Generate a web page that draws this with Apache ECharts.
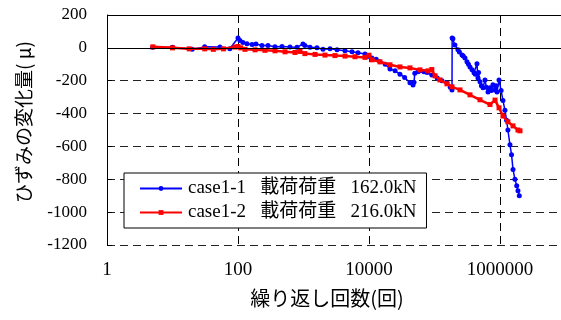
<!DOCTYPE html>
<html>
<head>
<meta charset="utf-8">
<script src="https://cdn.jsdelivr.net/npm/echarts@6/dist/echarts.min.js"></script>
<style>
  html, body { margin: 0; padding: 0; background: #fff; overflow: hidden; width: 561px; height: 320px; }
  /* the plot area runs on past the right edge of the page, up to 10^8 */
  #chart { width: 640px; height: 320px; }
</style>
</head>
<body>
<div id="chart"></div>
<script>
// Strain change vs. number of load cycles (log scale)
const seriesNames = ['case1-1   載荷荷重   162.0kN', 'case1-2   載荷荷重   216.0kN'];
const yTicks = [-1200, -1000, -800, -600, -400, -200, 0, 200];
const xTicks = [1, 100, 10000, 1000000];

// case1-1 : cycles / strain change
const case1Cycles = [
  5, 10, 20, 31, 53, 75, 100, 107, 119, 137, 164, 188, 232, 287, 367, 470, 622, 796,
  982, 1050, 1256, 1607, 1985, 2540, 3250, 4300, 5500, 6790, 8690, 9660,
  11100, 12900, 14700, 17700, 20900, 25000, 29700, 35000, 42200, 47000, 48700,
  50000, 56000, 60000, 69000, 77000, 91000, 110000, 130000, 155000, 174000, 185000,
  186000, 191000, 205000, 228000, 240000, 263000, 275000, 292000, 313000, 330000,
  348000, 374000, 401000, 420000, 445000, 461000, 470000, 495000, 520000, 550000,
  590000, 620000, 656000, 703000, 740000, 780000, 840000, 870000, 900000, 966000,
  1040000, 1110000, 1190000, 1260000, 1320000, 1420000, 1500000, 1580000, 1690000,
  1800000, 1880000, 1970000
];
const case1Strain = [
  4, 3, -8, 6, 5, -5, 60, 45, 32, 25, 21, 23, 15, 14, 7, 9, 5, 3,
  24, 14, 4, 0, -8, -6, -12, -18, -24, -30, -38, -52,
  -62, -70, -85, -100, -128, -140, -160, -180, -212, -226, -210,
  -155, -145, -140, -145, -150, -165, -183, -200, -214, -240, -256,
  60, 55, 18, -12, -25, -43, -50, -61, -85, -100,
  -116, -134, -152, -160, -97, -183, -150, -207, -230, -243,
  -195, -240, -268, -243, -260, -225, -256, -230, -268, -195,
  -260, -320, -380, -440, -500, -590, -650, -740, -800,
  -840, -870, -900
];

// case1-2 : cycles / strain change
const case2Cycles = [
  5, 10, 18, 31, 42, 60, 90, 100, 110, 128, 182, 258, 367, 522, 742, 885,
  1050, 1500, 2130, 3020, 4300, 6110, 8690, 10000, 11100, 14700, 20900, 29700,
  42200, 60000, 79500, 91000, 102000, 121000, 155000, 185000, 245000, 348000,
  495000, 703000, 840000, 966000, 1110000, 1320000, 1580000, 1880000, 2020000
];
const case2Strain = [
  6, 0, -6, -6, -9, -6, 5, 8, 0, -9, -12, -15, -18, -24, -28, -22,
  -35, -40, -44, -47, -50, -54, -58, -45, -73, -85, -103, -116,
  -122, -134, -140, -132, -170, -195, -219, -237, -256, -286,
  -316, -345, -318, -365, -415, -450, -475, -500, -505
];

const pairs = (xs, ys) => xs.map((x, i) => [x, ys[i]]);
const FONT = "'Liberation Serif', 'Noto Sans CJK JP', serif";
const JP = "'Noto Sans CJK JP', 'Liberation Serif', sans-serif";

const chart = echarts.init(document.getElementById('chart'), null, { renderer: 'canvas' });
chart.setOption({
  backgroundColor: '#fff',
  animation: false,
  grid: { left: 107, width: 524, top: 15, height: 230, containLabel: false },
  xAxis: {
    type: 'log',
    logBase: 100,
    min: 1,
    max: 100000000,
    axisLine: { show: false },
    axisTick: { show: true, inside: true, length: 5, lineStyle: { color: '#000' } },
    axisLabel: {
      color: '#000', fontFamily: FONT, fontSize: 19, margin: 16,
      formatter: v => {
        const r = Math.round(v);
        return xTicks.indexOf(r) >= 0 ? String(r) : '';
      }
    },
    splitLine: { show: true, lineStyle: { color: '#000', type: [8, 5], width: 1 } }
  },
  yAxis: {
    type: 'value',
    min: yTicks[0],
    max: yTicks[yTicks.length - 1],
    interval: 200,
    axisLine: { show: true, lineStyle: { color: '#000', width: 1 } },
    axisTick: { show: true, inside: true, length: 5, lineStyle: { color: '#000' } },
    axisLabel: { color: '#000', fontFamily: FONT, fontSize: 17, margin: 20,
                 formatter: v => String(v) },
    splitLine: { show: true, lineStyle: { color: '#222', type: [8, 5], width: 1 } }
  },
  legend: {
    orient: 'vertical',
    left: 124,
    top: 173,
    padding: [6, 10, 6, 15],
    itemGap: 5,
    itemWidth: 42,
    itemHeight: 6,
    backgroundColor: '#fff',
    borderColor: '#000',
    borderWidth: 1,
    borderRadius: 0,
    textStyle: { color: '#000', fontFamily: FONT, fontSize: 19, padding: [0, 0, 0, 1] },
    data: seriesNames
  },
  graphic: [
    {
      type: 'text', x: 327, y: 298,
      style: { text: '繰り返し回数(回)', fontFamily: JP, fontSize: 20, fill: '#000',
               textAlign: 'center', textVerticalAlign: 'middle' }
    },
    {
      type: 'text', x: 24, y: 122, rotation: Math.PI / 2,
      style: { text: 'ひずみの変化量( μ)', fontFamily: JP, fontSize: 19, fill: '#000',
               textAlign: 'center', textVerticalAlign: 'middle' }
    }
  ],
  series: [
    {
      name: seriesNames[0],
      type: 'line',
      data: pairs(case1Cycles, case1Strain),
      symbol: 'circle',
      symbolSize: 5,
      showAllSymbol: true,
      color: '#0000ff',
      lineStyle: { color: '#0000ff', width: 1.5 },
      itemStyle: { color: '#0000ff' },
      markLine: {
        silent: true,
        symbol: 'none',
        label: { show: false },
        lineStyle: { color: '#000', type: 'solid', width: 1 },
        data: [{ yAxis: 0 }, { yAxis: 200 }]
      },
      z: 3
    },
    {
      name: seriesNames[1],
      type: 'line',
      data: pairs(case2Cycles, case2Strain),
      symbol: 'rect',
      symbolSize: 5,
      showAllSymbol: true,
      color: '#ff0000',
      lineStyle: { color: '#ff0000', width: 2.5 },
      itemStyle: { color: '#ff0000' },
      z: 4
    }
  ]
});
</script>
</body>
</html>
